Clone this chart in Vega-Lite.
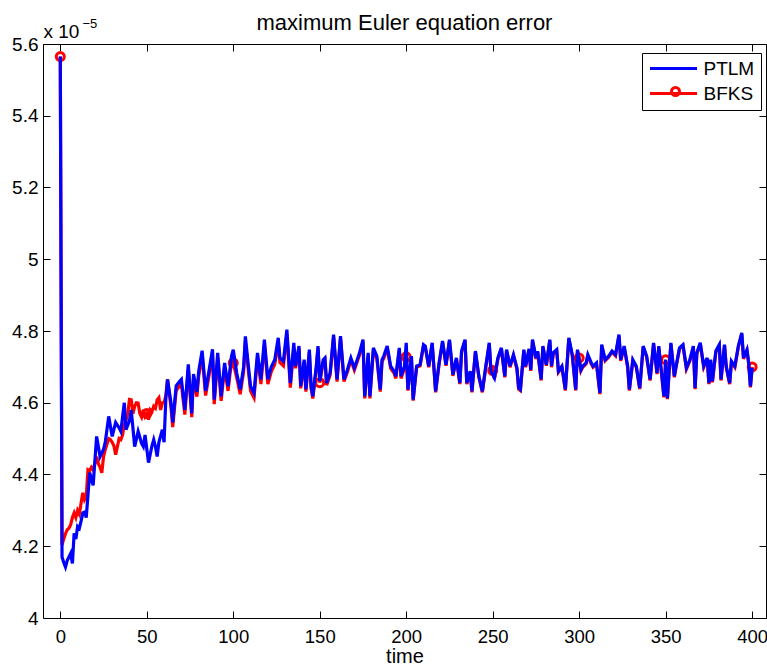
{
"$schema": "https://vega.github.io/schema/vega-lite/v6.json",
"width": 723, "height": 574,
"autosize": {"type": "none"},
"padding": {"left": 43, "top": 44, "right": 1, "bottom": 48},
"background": "white",
"config": {"view": {"stroke": "black", "strokeWidth": 1}, "font": "Liberation Sans"},
"title": {"text": "maximum Euler equation error", "fontSize": 22, "font": "Liberation Sans", "fontWeight": "normal", "color": "black", "anchor": "middle", "frame": "group", "baseline": "alphabetic", "offset": -35},
"datasets": {
"ptlm": [
{"t":0,"v":5.565},{"t":1,"v":4.17},{"t":2,"v":4.155},{"t":3,"v":4.142},{"t":4,"v":4.16},{"t":5,"v":4.17},{"t":6,"v":4.18},{"t":7,"v":4.152},{"t":8,"v":4.236},{"t":9,"v":4.22},{"t":10,"v":4.255},{"t":11,"v":4.25},{"t":12,"v":4.27},{"t":13,"v":4.293},{"t":14,"v":4.295},{"t":15,"v":4.28},{"t":17,"v":4.405},{"t":19,"v":4.37},{"t":21,"v":4.506},{"t":23,"v":4.45},{"t":25,"v":4.47},{"t":26,"v":4.49},{"t":28,"v":4.562},{"t":30,"v":4.506},{"t":32,"v":4.545},{"t":34,"v":4.53},{"t":35,"v":4.52},{"t":37,"v":4.6},{"t":38,"v":4.525},{"t":40,"v":4.55},{"t":41,"v":4.58},{"t":43,"v":4.478},{"t":45,"v":4.52},{"t":47,"v":4.487},{"t":48,"v":4.478},{"t":49,"v":4.51},{"t":51,"v":4.433},{"t":53,"v":4.48},{"t":54,"v":4.497},{"t":55,"v":4.478},{"t":56,"v":4.45},{"t":57,"v":4.49},{"t":59,"v":4.525},{"t":60,"v":4.49},{"t":61,"v":4.609},{"t":62,"v":4.665},{"t":64,"v":4.6},{"t":65,"v":4.545},{"t":67,"v":4.647},{"t":69,"v":4.66},{"t":70,"v":4.665},{"t":72,"v":4.58},{"t":74,"v":4.707},{"t":76,"v":4.57},{"t":77,"v":4.68},{"t":79,"v":4.63},{"t":80,"v":4.687},{"t":82,"v":4.745},{"t":84,"v":4.633},{"t":86,"v":4.69},{"t":88,"v":4.749},{"t":89,"v":4.609},{"t":91,"v":4.739},{"t":93,"v":4.618},{"t":95,"v":4.711},{"t":97,"v":4.646},{"t":99,"v":4.73},{"t":100,"v":4.748},{"t":102,"v":4.683},{"t":104,"v":4.637},{"t":106,"v":4.7},{"t":107,"v":4.785},{"t":109,"v":4.69},{"t":110,"v":4.646},{"t":112,"v":4.627},{"t":114,"v":4.739},{"t":116,"v":4.665},{"t":118,"v":4.776},{"t":120,"v":4.665},{"t":122,"v":4.7},{"t":124,"v":4.72},{"t":126,"v":4.781},{"t":127,"v":4.725},{"t":129,"v":4.716},{"t":131,"v":4.804},{"t":133,"v":4.655},{"t":135,"v":4.767},{"t":136,"v":4.702},{"t":138,"v":4.758},{"t":139,"v":4.646},{"t":141,"v":4.72},{"t":142,"v":4.637},{"t":144,"v":4.748},{"t":145,"v":4.646},{"t":146,"v":4.618},{"t":148,"v":4.702},{"t":149,"v":4.758},{"t":150,"v":4.66},{"t":152,"v":4.72},{"t":153,"v":4.725},{"t":154,"v":4.655},{"t":156,"v":4.683},{"t":158,"v":4.79},{"t":160,"v":4.665},{"t":162,"v":4.786},{"t":164,"v":4.665},{"t":166,"v":4.692},{"t":168,"v":4.725},{"t":170,"v":4.697},{"t":172,"v":4.725},{"t":173,"v":4.739},{"t":175,"v":4.776},{"t":176,"v":4.618},{"t":178,"v":4.739},{"t":179,"v":4.618},{"t":181,"v":4.753},{"t":183,"v":4.73},{"t":185,"v":4.637},{"t":186,"v":4.72},{"t":187,"v":4.73},{"t":189,"v":4.758},{"t":191,"v":4.702},{"t":193,"v":4.688},{"t":194,"v":4.674},{"t":196,"v":4.753},{"t":197,"v":4.674},{"t":199,"v":4.702},{"t":200,"v":4.767},{"t":201,"v":4.637},{"t":203,"v":4.73},{"t":204,"v":4.609},{"t":206,"v":4.702},{"t":208,"v":4.706},{"t":210,"v":4.762},{"t":211,"v":4.758},{"t":213,"v":4.702},{"t":215,"v":4.767},{"t":217,"v":4.632},{"t":219,"v":4.711},{"t":221,"v":4.772},{"t":223,"v":4.706},{"t":225,"v":4.776},{"t":227,"v":4.678},{"t":229,"v":4.725},{"t":231,"v":4.655},{"t":232,"v":4.744},{"t":234,"v":4.776},{"t":235,"v":4.655},{"t":237,"v":4.688},{"t":238,"v":4.632},{"t":240,"v":4.744},{"t":242,"v":4.674},{"t":244,"v":4.632},{"t":246,"v":4.702},{"t":248,"v":4.767},{"t":249,"v":4.688},{"t":251,"v":4.669},{"t":253,"v":4.725},{"t":255,"v":4.753},{"t":257,"v":4.674},{"t":258,"v":4.748},{"t":260,"v":4.702},{"t":262,"v":4.734},{"t":264,"v":4.697},{"t":265,"v":4.641},{"t":266,"v":4.637},{"t":268,"v":4.748},{"t":269,"v":4.702},{"t":271,"v":4.75},{"t":272,"v":4.692},{"t":273,"v":4.776},{"t":275,"v":4.725},{"t":276,"v":4.744},{"t":278,"v":4.665},{"t":279,"v":4.758},{"t":281,"v":4.706},{"t":283,"v":4.776},{"t":284,"v":4.702},{"t":285,"v":4.739},{"t":287,"v":4.748},{"t":288,"v":4.688},{"t":290,"v":4.702},{"t":292,"v":4.637},{"t":294,"v":4.781},{"t":296,"v":4.734},{"t":298,"v":4.637},{"t":299,"v":4.748},{"t":301,"v":4.692},{"t":302,"v":4.702},{"t":304,"v":4.711},{"t":305,"v":4.734},{"t":307,"v":4.711},{"t":308,"v":4.702},{"t":310,"v":4.711},{"t":312,"v":4.627},{"t":313,"v":4.762},{"t":315,"v":4.72},{"t":317,"v":4.73},{"t":319,"v":4.744},{"t":321,"v":4.734},{"t":323,"v":4.79},{"t":324,"v":4.72},{"t":326,"v":4.758},{"t":328,"v":4.702},{"t":329,"v":4.637},{"t":331,"v":4.72},{"t":333,"v":4.702},{"t":335,"v":4.641},{"t":337,"v":4.758},{"t":339,"v":4.73},{"t":341,"v":4.665},{"t":343,"v":4.767},{"t":345,"v":4.683},{"t":346,"v":4.758},{"t":348,"v":4.665},{"t":349,"v":4.618},{"t":350,"v":4.72},{"t":351,"v":4.613},{"t":353,"v":4.767},{"t":355,"v":4.674},{"t":356,"v":4.702},{"t":358,"v":4.753},{"t":360,"v":4.762},{"t":362,"v":4.697},{"t":364,"v":4.72},{"t":366,"v":4.758},{"t":367,"v":4.641},{"t":368,"v":4.739},{"t":370,"v":4.767},{"t":372,"v":4.702},{"t":374,"v":4.725},{"t":375,"v":4.655},{"t":376,"v":4.72},{"t":377,"v":4.66},{"t":379,"v":4.744},{"t":381,"v":4.762},{"t":382,"v":4.665},{"t":384,"v":4.762},{"t":385,"v":4.702},{"t":387,"v":4.655},{"t":388,"v":4.716},{"t":390,"v":4.702},{"t":392,"v":4.758},{"t":394,"v":4.795},{"t":395,"v":4.725},{"t":397,"v":4.748},{"t":398,"v":4.711},{"t":399,"v":4.646},{"t":400,"v":4.697}
],
"bfks": [
{"t":0,"v":5.565},{"t":1,"v":4.204},{"t":2,"v":4.22},{"t":3,"v":4.235},{"t":4,"v":4.246},{"t":5,"v":4.25},{"t":6,"v":4.26},{"t":7,"v":4.28},{"t":8,"v":4.293},{"t":9,"v":4.28},{"t":10,"v":4.3},{"t":11,"v":4.29},{"t":12,"v":4.32},{"t":13,"v":4.349},{"t":14,"v":4.33},{"t":15,"v":4.34},{"t":16,"v":4.413},{"t":17,"v":4.41},{"t":18,"v":4.42},{"t":19,"v":4.413},{"t":21,"v":4.45},{"t":22,"v":4.43},{"t":23,"v":4.42},{"t":24,"v":4.405},{"t":25,"v":4.45},{"t":26,"v":4.47},{"t":28,"v":4.5},{"t":29,"v":4.497},{"t":30,"v":4.49},{"t":31,"v":4.48},{"t":32,"v":4.455},{"t":34,"v":4.5},{"t":35,"v":4.497},{"t":36,"v":4.51},{"t":37,"v":4.54},{"t":38,"v":4.55},{"t":39,"v":4.57},{"t":40,"v":4.609},{"t":41,"v":4.608},{"t":42,"v":4.57},{"t":43,"v":4.59},{"t":44,"v":4.6},{"t":45,"v":4.599},{"t":46,"v":4.57},{"t":47,"v":4.56},{"t":48,"v":4.58},{"t":49,"v":4.562},{"t":50,"v":4.57},{"t":51,"v":4.553},{"t":52,"v":4.58},{"t":53,"v":4.575},{"t":54,"v":4.59},{"t":55,"v":4.585},{"t":56,"v":4.608},{"t":57,"v":4.614},{"t":58,"v":4.58},{"t":59,"v":4.6},{"t":60,"v":4.6},{"t":61,"v":4.62},{"t":62,"v":4.665},{"t":64,"v":4.587},{"t":65,"v":4.532},{"t":67,"v":4.634},{"t":69,"v":4.647},{"t":70,"v":4.652},{"t":72,"v":4.567},{"t":74,"v":4.694},{"t":76,"v":4.56},{"t":77,"v":4.667},{"t":79,"v":4.617},{"t":80,"v":4.674},{"t":82,"v":4.732},{"t":84,"v":4.62},{"t":86,"v":4.677},{"t":88,"v":4.736},{"t":89,"v":4.596},{"t":91,"v":4.726},{"t":93,"v":4.605},{"t":95,"v":4.698},{"t":97,"v":4.633},{"t":99,"v":4.717},{"t":100,"v":4.711},{"t":102,"v":4.67},{"t":104,"v":4.624},{"t":106,"v":4.687},{"t":107,"v":4.772},{"t":109,"v":4.677},{"t":110,"v":4.633},{"t":112,"v":4.614},{"t":114,"v":4.726},{"t":116,"v":4.652},{"t":118,"v":4.763},{"t":120,"v":4.652},{"t":122,"v":4.687},{"t":124,"v":4.707},{"t":126,"v":4.768},{"t":127,"v":4.712},{"t":129,"v":4.703},{"t":131,"v":4.791},{"t":133,"v":4.642},{"t":135,"v":4.754},{"t":136,"v":4.696},{"t":138,"v":4.752},{"t":139,"v":4.64},{"t":141,"v":4.714},{"t":142,"v":4.631},{"t":144,"v":4.742},{"t":145,"v":4.64},{"t":146,"v":4.612},{"t":148,"v":4.696},{"t":149,"v":4.752},{"t":150,"v":4.656},{"t":152,"v":4.714},{"t":153,"v":4.719},{"t":154,"v":4.649},{"t":156,"v":4.677},{"t":158,"v":4.784},{"t":160,"v":4.659},{"t":162,"v":4.78},{"t":164,"v":4.659},{"t":166,"v":4.686},{"t":168,"v":4.719},{"t":170,"v":4.691},{"t":172,"v":4.719},{"t":173,"v":4.733},{"t":175,"v":4.77},{"t":176,"v":4.612},{"t":178,"v":4.733},{"t":179,"v":4.612},{"t":181,"v":4.747},{"t":183,"v":4.724},{"t":185,"v":4.631},{"t":186,"v":4.714},{"t":187,"v":4.724},{"t":189,"v":4.752},{"t":191,"v":4.696},{"t":193,"v":4.682},{"t":194,"v":4.668},{"t":196,"v":4.747},{"t":197,"v":4.668},{"t":199,"v":4.696},{"t":200,"v":4.728},{"t":201,"v":4.634},{"t":203,"v":4.727},{"t":204,"v":4.606},{"t":206,"v":4.699},{"t":208,"v":4.703},{"t":210,"v":4.759},{"t":211,"v":4.755},{"t":213,"v":4.699},{"t":215,"v":4.764},{"t":217,"v":4.629},{"t":219,"v":4.708},{"t":221,"v":4.769},{"t":223,"v":4.703},{"t":225,"v":4.773},{"t":227,"v":4.675},{"t":229,"v":4.722},{"t":231,"v":4.652},{"t":232,"v":4.741},{"t":234,"v":4.773},{"t":235,"v":4.652},{"t":237,"v":4.685},{"t":238,"v":4.629},{"t":240,"v":4.741},{"t":242,"v":4.671},{"t":244,"v":4.629},{"t":246,"v":4.699},{"t":248,"v":4.764},{"t":249,"v":4.685},{"t":250,"v":4.69},{"t":251,"v":4.666},{"t":253,"v":4.722},{"t":255,"v":4.75},{"t":257,"v":4.671},{"t":258,"v":4.745},{"t":260,"v":4.699},{"t":262,"v":4.731},{"t":264,"v":4.694},{"t":265,"v":4.638},{"t":266,"v":4.634},{"t":268,"v":4.745},{"t":269,"v":4.699},{"t":271,"v":4.747},{"t":272,"v":4.689},{"t":273,"v":4.773},{"t":275,"v":4.722},{"t":276,"v":4.741},{"t":278,"v":4.662},{"t":279,"v":4.755},{"t":281,"v":4.703},{"t":283,"v":4.773},{"t":284,"v":4.699},{"t":285,"v":4.736},{"t":287,"v":4.745},{"t":288,"v":4.685},{"t":290,"v":4.699},{"t":292,"v":4.634},{"t":294,"v":4.778},{"t":296,"v":4.731},{"t":298,"v":4.634},{"t":299,"v":4.745},{"t":300,"v":4.725},{"t":301,"v":4.689},{"t":302,"v":4.699},{"t":304,"v":4.708},{"t":305,"v":4.731},{"t":307,"v":4.708},{"t":308,"v":4.699},{"t":310,"v":4.708},{"t":312,"v":4.624},{"t":313,"v":4.759},{"t":315,"v":4.717},{"t":317,"v":4.727},{"t":319,"v":4.741},{"t":321,"v":4.731},{"t":323,"v":4.787},{"t":324,"v":4.717},{"t":326,"v":4.755},{"t":328,"v":4.699},{"t":329,"v":4.634},{"t":331,"v":4.717},{"t":333,"v":4.699},{"t":335,"v":4.638},{"t":337,"v":4.755},{"t":339,"v":4.727},{"t":341,"v":4.662},{"t":343,"v":4.764},{"t":345,"v":4.68},{"t":346,"v":4.755},{"t":348,"v":4.662},{"t":349,"v":4.615},{"t":350,"v":4.72},{"t":351,"v":4.61},{"t":353,"v":4.764},{"t":355,"v":4.671},{"t":356,"v":4.699},{"t":358,"v":4.75},{"t":360,"v":4.759},{"t":362,"v":4.694},{"t":364,"v":4.717},{"t":366,"v":4.755},{"t":367,"v":4.638},{"t":368,"v":4.736},{"t":370,"v":4.764},{"t":372,"v":4.699},{"t":374,"v":4.722},{"t":375,"v":4.652},{"t":376,"v":4.717},{"t":377,"v":4.657},{"t":379,"v":4.741},{"t":381,"v":4.759},{"t":382,"v":4.662},{"t":384,"v":4.759},{"t":385,"v":4.699},{"t":387,"v":4.652},{"t":388,"v":4.713},{"t":390,"v":4.699},{"t":392,"v":4.755},{"t":394,"v":4.792},{"t":395,"v":4.722},{"t":397,"v":4.745},{"t":398,"v":4.708},{"t":399,"v":4.643},{"t":400,"v":4.7}
]
},
"resolve": {"axis": {"x": "independent", "y": "independent"}},
"layer": [
{
"data": {"name": "bfks"},
"mark": {"type": "line", "color": "#ff0000", "strokeWidth": 3.2},
"encoding": {
"x": {"field": "t", "type": "quantitative", "scale": {"domain": [-10, 408], "nice": false, "zero": false},
 "axis": {"orient": "bottom", "values": [0,50,100,150,200,250,300,350,400], "domain": false, "grid": false, "tickSize": -7, "tickColor": "black", "labelFontSize": 18.5, "labelFont": "Liberation Sans", "labelColor": "black", "labelPadding": 16, "labelFlush": false, "labelOverlap": false, "title": "time", "titleFontSize": 20, "titleFont": "Liberation Sans", "titleFontWeight": "normal", "titleColor": "black", "titlePadding": 1}},
"y": {"field": "v", "type": "quantitative", "scale": {"domain": [4, 5.6], "nice": false, "zero": false},
 "axis": {"orient": "left", "values": [4,4.2,4.4,4.6,4.8,5,5.2,5.4,5.6], "format": "~g", "domain": false, "grid": false, "tickSize": -7, "tickColor": "black", "labelFontSize": 19, "labelFont": "Liberation Sans", "labelColor": "black", "labelPadding": 12, "labelFlush": false, "labelOverlap": false, "title": "x 10", "titleAngle": 0, "titleAlign": "left", "titleBaseline": "alphabetic", "titleX": 0, "titleY": -7, "titleFontSize": 19, "titleFont": "Liberation Sans", "titleFontWeight": "normal", "titleColor": "black"}},
"color": {"datum": "BFKS", "scale": {"domain": ["PTLM", "BFKS"], "range": ["#0000ff", "#ff0000"]},
 "legend": {"orient": "none", "legendX": 599, "legendY": 9, "title": null, "symbolType": "M-5.875,0H5.875", "symbolSize": 64, "symbolOffset": 16, "symbolStrokeWidth": 3, "labelFontSize": 19, "labelFont": "Liberation Sans", "labelColor": "black", "labelOffset": 20.5, "strokeColor": "black", "fillColor": "white", "padding": 6, "rowPadding": 5}}
}
},
{
"data": {"name": "bfks"},
"transform": [{"filter": "datum.t % 50 == 0"}],
"mark": {"type": "point", "filled": false, "color": "#ff0000", "strokeWidth": 3, "size": 64, "opacity": 1},
"encoding": {
"x": {"field": "t", "type": "quantitative", "axis": null},
"y": {"field": "v", "type": "quantitative", "axis": null},
"shape": {"datum": "BFKS", "scale": {"domain": ["BFKS"], "range": ["circle"]},
 "legend": {"orient": "none", "legendX": 627, "legendY": 42, "title": null, "labelExpr": "''", "labelFontSize": 1, "symbolSize": 64, "symbolStrokeWidth": 3, "symbolStrokeColor": "#ff0000", "symbolFillColor": "transparent", "symbolOpacity": 1, "padding": 0}}
}
},
{
"data": {"name": "ptlm"},
"mark": {"type": "line", "color": "#0000ff", "strokeWidth": 3.2},
"encoding": {
"x": {"field": "t", "type": "quantitative",
 "axis": {"orient": "top", "values": [0,50,100,150,200,250,300,350,400], "domain": false, "grid": false, "tickSize": -7, "tickColor": "black", "labels": false, "title": null}},
"y": {"field": "v", "type": "quantitative",
 "axis": {"orient": "right", "values": [4,4.2,4.4,4.6,4.8,5,5.2,5.4,5.6], "domain": false, "grid": false, "tickSize": -7, "tickColor": "black", "labels": false, "title": "\u22125", "titleAngle": 0, "titleAlign": "left", "titleBaseline": "alphabetic", "titleX": -684, "titleY": -17, "titleFontSize": 13, "titleFont": "Liberation Sans", "titleFontWeight": "normal", "titleColor": "black"}},
"color": {"datum": "PTLM"}
}
}
]
}
